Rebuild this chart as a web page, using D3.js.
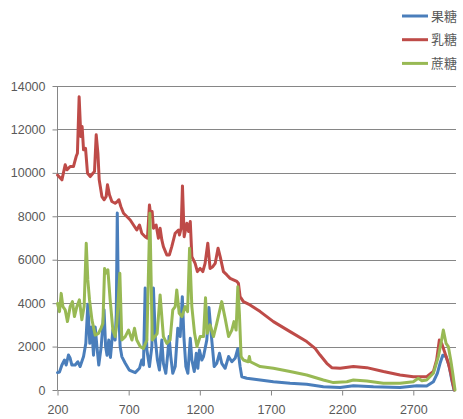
<!DOCTYPE html>
<html>
<head>
<meta charset="utf-8">
<script src="https://cdn.jsdelivr.net/npm/d3@7"></script>
<style>
  html, body { margin: 0; padding: 0; background: #fff; }
  svg { display: block; }
</style>
</head>
<body>
<svg id="chart" width="463" height="419"></svg>
<script>
// ---------- data ----------
const seriesNames = ["果糖", "乳糖", "蔗糖"];
const xTicks = [200, 700, 1200, 1700, 2200, 2700];
const yTicks = [0, 2000, 4000, 6000, 8000, 10000, 12000, 14000];

const fructose = [[200,800],[214,830],[231,1150],[249,1380],[261,1150],[277,1610],[289,1460],[301,1150],[324,1150],[343,1300],[359,1080],[383,1540],[399,2150],[413,3950],[427,2150],[440,2900],[453,1600],[465,2900],[477,2000],[490,1150],[507,2000],[527,3700],[538,2000],[548,1600],[560,2300],[572,1500],[589,2760],[605,2300],[613,3500],[620,8150],[628,4000],[640,2000],[652,1540],[676,1230],[704,920],[746,800],[776,1000],[792,1380],[804,1150],[816,4700],[828,1840],[846,1080],[863,2000],[874,4700],[888,2300],[902,1380],[916,920],[933,2300],[944,1230],[961,770],[975,1690],[984,2460],[996,1540],[1010,770],[1027,1080],[1045,2840],[1062,2460],[1077,4300],[1088,2460],[1102,1080],[1116,770],[1133,2380],[1144,1380],[1161,850],[1175,1690],[1186,1000],[1197,1840],[1214,1380],[1226,1540],[1249,2300],[1264,3800],[1284,2300],[1301,1080],[1319,1230],[1338,1690],[1354,1230],[1378,1000],[1402,1540],[1425,1300],[1448,1460],[1467,1900],[1483,1080],[1495,610],[1530,540],[1624,460],[1717,380],[1834,310],[1951,260],[2068,150],[2186,120],[2279,200],[2420,150],[2607,120],[2724,200],[2794,180],[2841,380],[2869,770],[2888,1230],[2907,1600],[2930,1540],[2953,1080],[2970,460],[2986,0]];

const lactose = [[200,9900],[231,9680],[254,10370],[266,10140],[289,10290],[312,10290],[331,10750],[340,10900],[352,13500],[364,11670],[373,12130],[383,11060],[397,11130],[411,9980],[430,9830],[449,9980],[460,10060],[472,11750],[484,10900],[493,9680],[512,8910],[528,8760],[542,8910],[551,9450],[565,8990],[582,8680],[605,8600],[621,8680],[631,8760],[645,8450],[664,8140],[687,7990],[711,7830],[734,7600],[757,7370],[776,7600],[792,7220],[816,7060],[832,6990],[846,8520],[856,7990],[865,8220],[874,7450],[893,7600],[909,6990],[921,7450],[933,6910],[944,6600],[968,6220],[986,6220],[1003,6600],[1027,7220],[1050,7370],[1057,7140],[1069,7450],[1078,9400],[1090,7060],[1109,7680],[1121,7300],[1133,7760],[1144,6140],[1167,5830],[1183,5450],[1202,5600],[1221,5450],[1237,5830],[1256,6760],[1272,5600],[1291,5680],[1308,5830],[1328,6530],[1343,6140],[1366,5450],[1390,5300],[1413,5140],[1436,5070],[1460,5000],[1471,4920],[1483,4300],[1506,4070],[1553,3920],[1624,3610],[1717,3150],[1834,2690],[1951,2230],[2010,1920],[2045,1610],[2092,1230],[2127,1030],[2186,1000],[2279,1080],[2373,1030],[2490,850],[2607,690],[2700,610],[2794,610],[2841,850],[2864,1380],[2883,2300],[2899,2150],[2923,1690],[2946,1230],[2963,770],[2977,310],[2988,0]];

const sucrose = [[200,3990],[214,3610],[226,4450],[238,3840],[254,3690],[270,3150],[289,3840],[305,4070],[319,3380],[336,3840],[354,4150],[371,3230],[387,3840],[402,6760],[413,5070],[425,4150],[442,3230],[465,2530],[488,2610],[505,2840],[519,3070],[531,5600],[542,5380],[554,5530],[570,4150],[589,2760],[605,2460],[617,3070],[638,5380],[652,2300],[676,2460],[699,2760],[723,2300],[741,2840],[757,2300],[781,2000],[804,1920],[828,2300],[849,8140],[866,2300],[900,2600],[921,4380],[944,2460],[968,2150],[991,2300],[1010,3690],[1027,3840],[1038,4610],[1055,3530],[1074,3380],[1097,3840],[1114,3610],[1128,6530],[1144,3840],[1163,2610],[1180,2000],[1202,2460],[1226,2460],[1240,4250],[1252,2610],[1272,3000],[1296,2460],[1319,3070],[1354,4070],[1378,3300],[1402,2460],[1425,2760],[1440,3150],[1455,2760],[1467,4760],[1478,3530],[1490,1540],[1506,1380],[1540,1300],[1548,1540],[1555,1300],[1624,1080],[1717,1000],[1834,850],[1951,690],[2068,460],[2139,340],[2233,380],[2279,460],[2373,410],[2490,310],[2607,310],[2700,380],[2735,540],[2760,430],[2794,460],[2841,770],[2876,1540],[2899,2300],[2911,2760],[2930,2150],[2946,2000],[2963,1380],[2977,770],[2993,0]];

const seriesData = [fructose, lactose, sucrose];
const colors = ["#4A7EBB", "#BE4B48", "#98B954"];

// ---------- layout ----------
const svg = d3.select("#chart");
const x = d3.scaleLinear().domain([200, 3000]).range([57.5, 456]);
const y = d3.scaleLinear().domain([0, 14000]).range([390, 86]);
const font = "'Liberation Sans', Arial, sans-serif";
const textColor = "#595959";
const gridColor = "#868686";

// gridlines
svg.append("g").selectAll("line")
  .data(yTicks.filter(d => d > 0))
  .join("line")
  .attr("x1", x(200)).attr("x2", 456)
  .attr("y1", d => Math.round(y(d)) + 0.5).attr("y2", d => Math.round(y(d)) + 0.5)
  .attr("stroke", gridColor).attr("stroke-width", 1);

// y axis
const yAxis = d3.axisLeft(y).tickValues(yTicks).tickSize(5).tickPadding(7).tickFormat(d3.format("d"));
const gy = svg.append("g").attr("transform", "translate(57.5,0)").call(yAxis);
gy.select(".domain").attr("stroke", gridColor).attr("d", `M0,${y(14000)}V${y(0)}`);
gy.selectAll(".tick line").attr("stroke", gridColor);
gy.selectAll(".tick text").attr("fill", textColor).style("font", `12.5px ${font}`);

// x axis
const xAxis = d3.axisBottom(x).tickValues(xTicks).tickSize(5).tickPadding(10).tickFormat(d3.format("d"));
const gx = svg.append("g").attr("transform", "translate(0,390.5)").call(xAxis);
gx.select(".domain").attr("stroke", gridColor).attr("d", `M${x(200)},0H456`);
gx.selectAll(".tick line").attr("stroke", gridColor);
gx.selectAll(".tick text").attr("fill", textColor).style("font", `12.5px ${font}`);

// lines
const line = d3.line().x(d => x(d[0])).y(d => y(d[1]));
svg.append("g").selectAll("path")
  .data(seriesData)
  .join("path")
  .attr("d", line)
  .attr("fill", "none")
  .attr("stroke", (d, i) => colors[i])
  .attr("stroke-width", 3)
  .attr("stroke-linejoin", "round")
  .attr("stroke-linecap", "round");

// legend
const legend = svg.append("g");
const items = legend.selectAll("g").data(seriesNames).join("g")
  .attr("transform", (d, i) => `translate(402,${16 + i * 23.7})`);
items.append("line").attr("x1", 0).attr("x2", 26).attr("y1", 0).attr("y2", 0)
  .attr("stroke", (d, i) => colors[i]).attr("stroke-width", 3);
items.append("text").attr("x", 29).attr("y", 0).attr("dy", "0.36em")
  .attr("fill", textColor)
  .style("font", "13px 'Noto Sans CJK SC', sans-serif")
  .text(d => d);
</script>
</body>
</html>
